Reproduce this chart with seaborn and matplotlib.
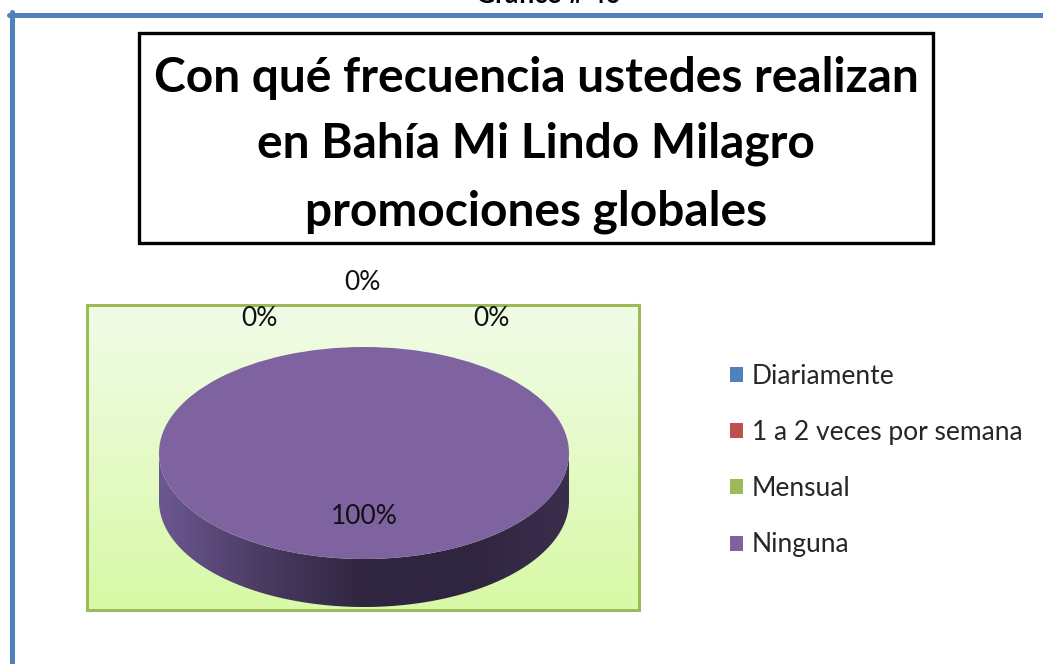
import numpy as np
import seaborn as sns
import matplotlib.pyplot as plt
from matplotlib.patches import Rectangle, Polygon, Patch
from matplotlib.lines import Line2D
from matplotlib.colors import LinearSegmentedColormap

categories = ["Diariamente", "1 a 2 veces por semana", "Mensual", "Ninguna"]
values = [0, 0, 0, 100]
colors = ["#4f81bd", "#c0504d", "#9bbb59", "#7e63a0"]
side_colors = ["#34567f", "#803432", "#677d3b", "#2f2540"]
title_lines = ["Con qué frecuencia ustedes realizan",
               "en Bahía Mi Lindo Milagro",
               "promociones globales"]
header = "Gráfico # 40"

sns.set_theme(style="white")
plt.rcParams["font.family"] = ["Lato", "DejaVu Sans"]

W, H = 1043, 664
fig = plt.figure(figsize=(W / 100, H / 100), dpi=100)
fig.patch.set_facecolor("white")


def fx(px):
    return px / W


def fy(py):
    return 1 - py / H


# blue page frame
fig.add_artist(Line2D([fx(9), fx(1043)], [fy(14.5), fy(14.5)], color="#4f81bd", lw=3.6))
fig.add_artist(Line2D([fx(11.5), fx(11.5)], [fy(12), fy(664)], color="#4f81bd", lw=3.6))
# header of the page, cut off at the top edge as in the source
fig.text(fx(548), fy(3), header, ha="center", va="baseline", fontsize=19,
         fontweight="bold", color="black")

# title box
fig.add_artist(Rectangle((fx(139), fy(243)), fx(933 - 139), (243 - 33) / H,
                         fill=False, edgecolor="black", lw=2.4, transform=fig.transFigure))
for line, base in zip(title_lines, [92, 158, 225]):
    fig.text(fx(536), fy(base), line, ha="center", va="baseline", fontsize=34.5,
             fontweight="bold", color="black")

# plot area
left, right, top, bottom = 87, 639, 305, 610
ax = fig.add_axes([fx(left), fy(bottom), fx(right - left), (bottom - top) / H])
cx, cy, rx, ry, depth_px = 364, 453, 205, 106, 48
xlim = (-(cx - left) / rx, (right - cx) / rx)
ylim = (-(bottom - cy) / ry, (cy - top) / ry)
depth = depth_px / ry

wedges, _ = ax.pie(values, colors=colors, startangle=90, counterclock=False,
                   radius=1, wedgeprops=dict(linewidth=0))
for w in wedges:
    w.set_zorder(5)

# background gradient
bg = LinearSegmentedColormap.from_list("bg", ["#d8f9a6", "#f1fce8"])
ax.imshow(np.linspace(0, 1, 256).reshape(-1, 1), cmap=bg, aspect="auto",
          extent=(*xlim, *ylim), origin="lower", zorder=0)

# 3d side of the pie (front half only)
t = np.linspace(180, 360, 400)
for w, sc, c in zip(wedges, side_colors, colors):
    span = w.theta2 - w.theta1
    if span <= 0:
        continue
    mask = ((t - w.theta1) % 360) <= span + 1e-9
    if not mask.any():
        continue
    tt = np.radians(t[mask])
    xs, ys = np.cos(tt), np.sin(tt)
    pts = np.column_stack([np.r_[xs, xs[::-1]], np.r_[ys, ys[::-1] - depth]])
    poly = Polygon(pts, closed=True, facecolor="none", edgecolor="none")
    ax.add_patch(poly)
    cmap = LinearSegmentedColormap.from_list("side", ["#6c5891", "#4a3b63", sc, sc, "#3a2e4d"])
    im = ax.imshow(np.linspace(0, 1, 256).reshape(1, -1), cmap=cmap, aspect="auto",
                   extent=(-1, 1, -1 - depth, 0), zorder=3)
    im.set_clip_path(poly)

# data labels
label_pos = [(-0.51, 1.27), (-0.01, 1.61), (0.62, 1.27)]
zi = 0
for w, v in zip(wedges, values):
    txt = f"{v:.0f}%"
    if v == 0:
        x, y = label_pos[zi]
        zi += 1
    else:
        mid = np.radians((w.theta1 + w.theta2) / 2)
        x, y = 0.6 * np.cos(mid), 0.6 * np.sin(mid)
    ax.text(x, y, txt, ha="center", va="center", fontsize=19, color="#111111",
            zorder=10, clip_on=False)

ax.set_aspect("auto")
ax.set_xlim(*xlim)
ax.set_ylim(*ylim)
ax.set_xticks([])
ax.set_yticks([])
ax.set_frame_on(True)
for s in ax.spines.values():
    s.set_visible(True)
    s.set_color("#9bbb59")
    s.set_linewidth(2.2)

handles = [Patch(facecolor=c, edgecolor="none") for c in colors]
fig.legend(handles, categories, loc="upper left", bbox_to_anchor=(fx(730), fy(364)),
           frameon=False, fontsize=19, handlelength=0.5, handleheight=0.5,
           handletextpad=0.33, labelspacing=1.18, borderpad=0, borderaxespad=0)

fig.savefig("out.png", dpi=100)
